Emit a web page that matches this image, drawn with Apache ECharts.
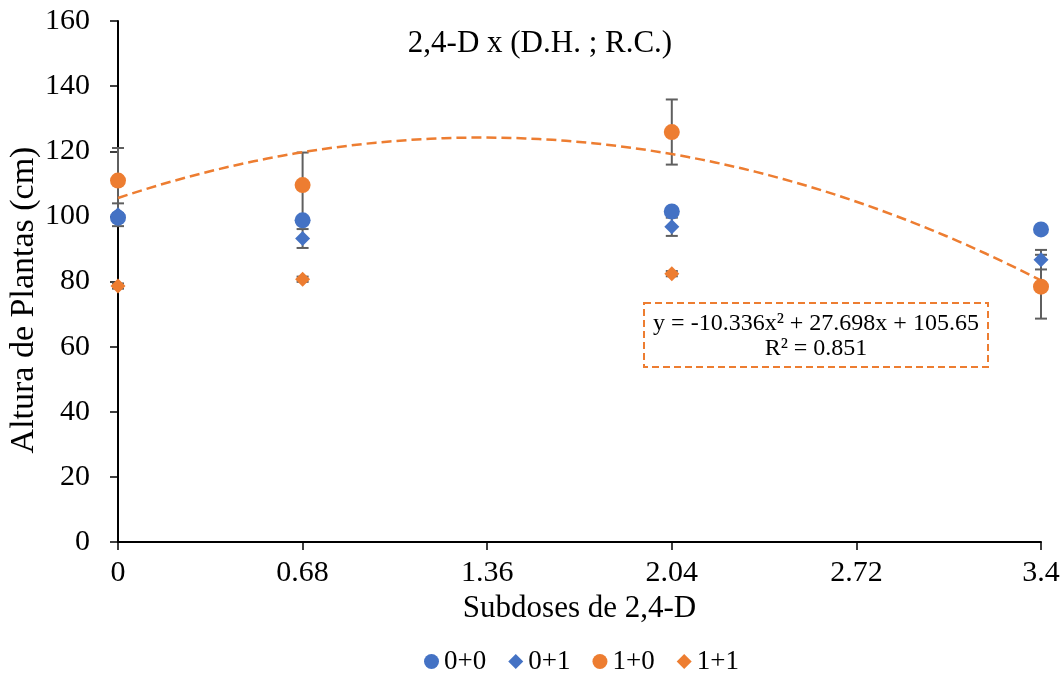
<!DOCTYPE html>
<html>
<head>
<meta charset="utf-8">
<script src="https://cdn.jsdelivr.net/npm/echarts@6/dist/echarts.min.js"></script>
<style>
  html, body { margin: 0; padding: 0; background: #fff; }
  #chart { width: 1064px; height: 675px; }
</style>
</head>
<body>
<div id="chart"></div>
<script>
// Subdoses of 2,4-D (x positions)
const doses = [0, 0.68, 2.04, 3.4];
const xTickLabels = ['0', '0.68', '1.36', '2.04', '2.72', '3.4'];

// Plant height (cm) per treatment and its error
const s00 = [99.6, 98.8, 101.5, 96.0];
const s00Err = [1.0, 1.0, 1.0, 1.0];
const s01 = [100.5, 93.2, 96.8, 86.7];
const s01Err = [3.5, 2.9, 2.8, 3.0];
const s10 = [111.0, 109.6, 125.9, 78.4];
const s10Err = [10.0, 10.0, 10.0, 9.8];
const s11 = [78.6, 80.7, 82.4, 78.3];
const s11Err = [0.8, 0.8, 0.8, 0.8];

// Polynomial trend (1+0): y = a x^2 + b x + c
const trendCoef = [-10.336, 27.698, 105.65];
const trendR2 = 0.851;

const BLUE = '#4472C4';
const ORANGE = '#ED7D31';
const ERR = '#5f5f5f';
const FONT = '"Liberation Serif", "Times New Roman", serif';

function pairs(ys) { return doses.map((x, i) => [x, ys[i]]); }
function errData(ys, es) { return doses.map((x, i) => [x, ys[i] - es[i], ys[i] + es[i]]); }

function errorSeries(ys, es) {
  return {
    type: 'custom',
    data: errData(ys, es),
    z: 1,
    silent: true,
    renderItem: function (params, api) {
      const x = api.value(0);
      const lo = api.coord([x, api.value(1)]);
      const hi = api.coord([x, api.value(2)]);
      const cap = 6;
      const style = { stroke: ERR, lineWidth: 2 };
      return {
        type: 'group',
        children: [
          { type: 'line', shape: { x1: lo[0], y1: lo[1], x2: hi[0], y2: hi[1] }, style },
          { type: 'line', shape: { x1: lo[0] - cap, y1: lo[1], x2: lo[0] + cap, y2: lo[1] }, style },
          { type: 'line', shape: { x1: hi[0] - cap, y1: hi[1], x2: hi[0] + cap, y2: hi[1] }, style }
        ]
      };
    }
  };
}

// Trend curve sampled across the dose range
const trendPts = [];
for (let i = 0; i <= 68; i++) {
  const x = i * 0.05;
  trendPts.push([x, trendCoef[0] * x * x + trendCoef[1] * x + trendCoef[2]]);
}

function fmtLabel(v) {
  for (const s of xTickLabels) {
    if (Math.abs(parseFloat(s) - v) < 1e-6) return s;
  }
  return '';
}

const chart = echarts.init(document.getElementById('chart'));
chart.setOption({
  animation: false,
  backgroundColor: '#fff',
  textStyle: { fontFamily: FONT },
  title: {
    text: '2,4-D x (D.H. ; R.C.)',
    left: 535,
    top: 23,
    textAlign: 'center',
    textStyle: { fontFamily: FONT, fontSize: 31, fontWeight: 'normal', color: '#000' }
  },
  grid: { left: 118, right: 23, top: 21, bottom: 133, containLabel: false, outerBoundsMode: 'none' },
  legend: {
    bottom: 0,
    left: 424,
    padding: 0,
    itemWidth: 15,
    itemHeight: 15,
    itemGap: 22,
    textStyle: { fontFamily: FONT, fontSize: 27, color: '#000' },
    data: [
      { name: '0+0', icon: 'circle' },
      { name: '0+1', icon: 'diamond' },
      { name: '1+0', icon: 'circle' },
      { name: '1+1', icon: 'diamond' }
    ]
  },
  xAxis: {
    type: 'value',
    min: 0,
    max: 3.4,
    interval: 0.68,
    name: 'Subdoses de 2,4-D',
    nameLocation: 'middle',
    nameGap: 43,
    nameTextStyle: { fontFamily: FONT, fontSize: 31, color: '#000' },
    axisLine: { lineStyle: { color: '#000', width: 2 } },
    axisTick: { show: true, inside: false, length: 8, lineStyle: { color: '#000', width: 1.5 } },
    axisLabel: { fontFamily: FONT, fontSize: 30, color: '#000', margin: 16, formatter: fmtLabel },
    splitLine: { show: false }
  },
  yAxis: {
    type: 'value',
    min: 0,
    max: 160,
    interval: 20,
    axisLine: { show: true, lineStyle: { color: '#000', width: 2 } },
    axisTick: { show: true, inside: false, length: 8, lineStyle: { color: '#000', width: 1.5 } },
    axisLabel: { fontFamily: FONT, fontSize: 30, color: '#000', margin: 28 },
    splitLine: { show: false }
  },
  graphic: [
    {
      // vertical axis title
      type: 'text',
      x: 24,
      y: 300,
      rotation: Math.PI / 2,
      style: {
        text: 'Altura de Plantas (cm)',
        font: '34px ' + FONT, fill: '#000', align: 'center', verticalAlign: 'middle'
      }
    },
    {
      type: 'group',
      left: 643,
      top: 302,
      children: [
        {
          type: 'rect',
          shape: { x: 0, y: 0, width: 344, height: 64 },
          style: { fill: '#fff', stroke: ORANGE, lineWidth: 2, lineDash: [7, 4] }
        },
        {
          type: 'text',
          x: 172, y: 21,
          style: {
            text: 'y = ' + trendCoef[0] + 'x² + ' + trendCoef[1] + 'x + ' + trendCoef[2],
            font: '24px ' + FONT, fill: '#000', align: 'center', verticalAlign: 'middle'
          }
        },
        {
          type: 'text',
          x: 172, y: 46,
          style: {
            text: 'R² = ' + trendR2,
            font: '24px ' + FONT, fill: '#000', align: 'center', verticalAlign: 'middle'
          }
        }
      ]
    }
  ],
  series: [
    errorSeries(s00, s00Err),
    errorSeries(s01, s01Err),
    errorSeries(s10, s10Err),
    errorSeries(s11, s11Err),
    { name: '0+0', type: 'scatter', symbol: 'circle', symbolSize: 16, z: 3, itemStyle: { color: BLUE, opacity: 1 }, data: pairs(s00) },
    { name: '0+1', type: 'scatter', symbol: 'diamond', symbolSize: 15, z: 3, itemStyle: { color: BLUE, opacity: 1 }, data: pairs(s01) },
    { name: '1+0', type: 'scatter', symbol: 'circle', symbolSize: 16, z: 3, itemStyle: { color: ORANGE, opacity: 1 }, data: pairs(s10) },
    { name: '1+1', type: 'scatter', symbol: 'diamond', symbolSize: 15, z: 3, itemStyle: { color: ORANGE, opacity: 1 }, data: pairs(s11) },
    {
      type: 'line', data: trendPts, showSymbol: false, symbol: 'none', smooth: false, z: 4, silent: true,
      lineStyle: { color: ORANGE, width: 2.5, type: [10, 5] }
    }
  ]
});
</script>
</body>
</html>
